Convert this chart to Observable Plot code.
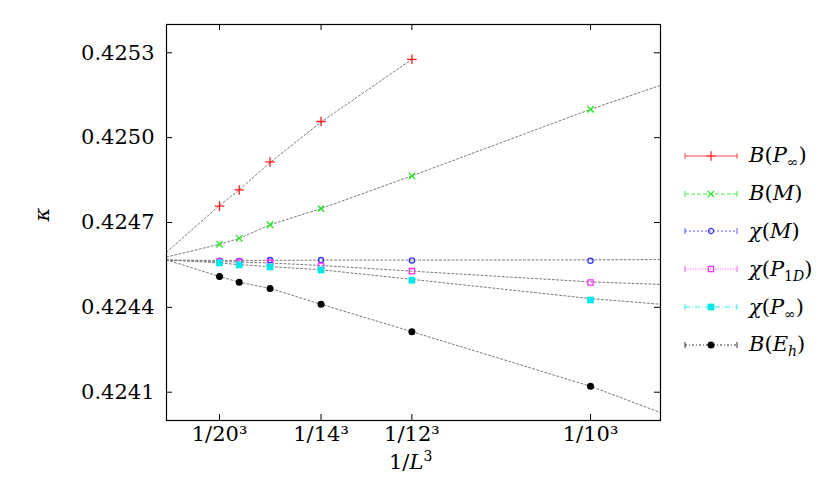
<!DOCTYPE html>
<html>
<head>
<meta charset="utf-8">
<script src="https://cdn.jsdelivr.net/npm/d3@7"></script>
<script src="https://cdn.jsdelivr.net/npm/@observablehq/plot@0.6"></script>
<style>
  body { margin: 0; background: #fff; }
  #wrap { position: relative; width: 830px; height: 483px; font-family: "DejaVu Serif", serif; }
  #wrap svg text { font-family: "DejaVu Serif", serif !important; }
  .lbl { position: absolute; font-size: 21px; color: #000; white-space: nowrap; line-height: 1; }
  #legend { position: absolute; left: 680px; top: 137px; }
  .row { display: flex; align-items: center; height: 37.8px; }
  .row span { font-size: 21px; margin-left: 7px; line-height: 1; }
  .row sub { font-size: 14px; vertical-align: -5px; line-height: 0; }
</style>
</head>
<body>
<div id="wrap"></div>
<script>
// ---- data ----
const L = [20, 18, 16, 14, 12, 10];
const xTickL = [20, 14, 12, 10];
const yTicks = [0.4241, 0.4244, 0.4247, 0.4250, 0.4253];
const xDomain = [0, 0.001165];
const yDomain = [0.4240, 0.4254];

const seriesKeys = ["BPinf", "BM", "chiM", "chiP1D", "chiPinf", "BEh"];
const seriesLabels = [
  "<i>B</i>(<i>P</i><sub>∞</sub>)",
  "<i>B</i>(<i>M</i>)",
  "<i>χ</i>(<i>M</i>)",
  "<i>χ</i>(<i>P</i><sub>1<i>D</i></sub>)",
  "<i>χ</i>(<i>P</i><sub>∞</sub>)",
  "<i>B</i>(<i>E<sub>h</sub></i>)"
];
const seriesColors = ["#ff1c1c", "#1ee81e", "#3434ff", "#ff2cff", "#00e8e8", "#000000"];
const seriesSymbols = ["plus", "times", "circle", "square", "square", "circle"];
const seriesFilled = [false, false, false, false, true, true];
const seriesSize = [3.2, 3.0, 2.6, 3, 3.8, 3.5];
const legendDash = ["none", "4,2", "2,2", "1,1.5", "5,2,1,2", "2,2,1,2"];

// kappa values for L = 20,18,16,14,12,10 (null = outside the plot)
const BPinf   = [0.424758, 0.424815, 0.424914, 0.425057, 0.425277, null];
const BM      = [0.424623, 0.424644, 0.424692, 0.424749, 0.424865, 0.425100];
const chiM    = [0.424565, 0.424564, 0.424567, 0.424567, 0.424566, 0.424565];
const chiP1D  = [0.424562, 0.424561, 0.424558, 0.424547, 0.424528, 0.424488];
const chiPinf = [0.424557, 0.424550, 0.424543, 0.424532, 0.424496, 0.424426];
const BEh     = [0.424509, 0.424489, 0.424467, 0.424411, 0.424314, 0.424121];

// fit curves, read at x = 0, 1/L^3 (L = 20..10), right edge
const fitBPinf   = [0.424595, 0.424760, 0.424815, 0.424912, 0.425055, 0.425277, null, null];
const fitBM      = [0.424578, 0.424623, 0.424644, 0.424692, 0.424749, 0.424865, 0.425100, 0.425185];
const fitChiM    = [0.424567, 0.424566, 0.424566, 0.424566, 0.424567, 0.424567, 0.424568, 0.424569];
const fitChiP1D  = [0.424567, 0.424562, 0.424560, 0.424557, 0.424548, 0.424528, 0.424490, 0.424481];
const fitChiPinf = [0.424568, 0.424557, 0.424551, 0.424544, 0.424533, 0.424499, 0.424431, 0.424411];
const fitBEh     = [0.424568, 0.424509, 0.424489, 0.424467, 0.424411, 0.424314, 0.424121, 0.424028];

// ---- build tables ----
const values = {BPinf, BM, chiM, chiP1D, chiPinf, BEh};
const fits = {BPinf: fitBPinf, BM: fitBM, chiM: fitChiM, chiP1D: fitChiP1D, chiPinf: fitChiPinf, BEh: fitBEh};
const xOf = l => 1 / (l ** 3);
const fitX = [0, ...L.map(xOf), xDomain[1]];

const points = [];
seriesKeys.forEach(k => values[k].forEach((v, i) => { if (v != null) points.push({series: k, x: xOf(L[i]), y: v}); }));
const fitRows = [];
seriesKeys.forEach(k => fits[k].forEach((v, i) => { if (v != null) fitRows.push({series: k, x: fitX[i], y: v}); }));

const xTicks = xTickL.map(xOf);
const frameW = 830 - 166 - 170, frameH = 483 - 24 - 63;

const dotMarks = seriesKeys.map((k, i) => Plot.dot(points.filter(d => d.series === k), {
  x: "x", y: "y",
  symbol: seriesSymbols[i],
  r: seriesSize[i],
  stroke: seriesFilled[i] ? "none" : seriesColors[i],
  fill: seriesFilled[i] ? seriesColors[i] : "none",
  strokeWidth: 1.3
}));

const chart = Plot.plot({
  width: 830, height: 483,
  marginLeft: 166, marginRight: 170, marginTop: 24, marginBottom: 63,
  style: {fontFamily: "'DejaVu Serif', serif", fontSize: "21px", color: "#000", background: "#fff"},
  x: {domain: xDomain},
  y: {domain: yDomain},
  marks: [
    Plot.line(fitRows, {x: "x", y: "y", z: "series", stroke: "#7a7a7a", strokeWidth: 1, strokeDasharray: "2,2.2"}),
    ...dotMarks,
    Plot.tickY(yTicks, {y: d => d, insetRight: frameW - 6, stroke: "#000"}),
    Plot.tickY(yTicks, {y: d => d, insetLeft: frameW - 6, stroke: "#000"}),
    Plot.tickX(xTicks, {x: d => d, insetBottom: frameH - 6, stroke: "#000"}),
    Plot.tickX(xTicks, {x: d => d, insetTop: frameH - 6, stroke: "#000"}),
    Plot.axisY(yTicks, {tickSize: 0, tickPadding: 12, tickFormat: d => d.toFixed(4), label: null}),
    Plot.axisX(xTicks, {tickSize: 0, tickPadding: 6, tickFormat: (d, i) => "1/" + xTickL[i] + "³", label: null}),
    Plot.frame({stroke: "#000", strokeWidth: 1.2})
  ]
});

const wrap = document.getElementById("wrap");
wrap.appendChild(chart);

// axis titles
const yl = document.createElement("div");
yl.className = "lbl";
yl.innerHTML = "<i>κ</i>";
yl.style.left = "36px"; yl.style.top = "204px";
yl.style.transform = "rotate(-90deg)";
wrap.appendChild(yl);

const xl = document.createElement("div");
xl.className = "lbl";
xl.innerHTML = "1/<i>L</i><sup style='font-size:14px;vertical-align:8px;line-height:0'>3</sup>";
xl.style.left = "389px"; xl.style.top = "452px";
wrap.appendChild(xl);

// legend
const legend = document.createElement("div");
legend.id = "legend";
seriesKeys.forEach((k, i) => {
  const row = document.createElement("div");
  row.className = "row";
  const svg = d3.create("svg").attr("width", 62).attr("height", 20);
  const c = seriesColors[i];
  svg.append("line").attr("x1", 5).attr("x2", 57).attr("y1", 10).attr("y2", 10)
    .attr("stroke", c).attr("stroke-width", 1).attr("stroke-dasharray", legendDash[i]).attr("opacity", 0.8);
  [5, 57].forEach(x => svg.append("line").attr("x1", x).attr("x2", x).attr("y1", 7).attr("y2", 13)
    .attr("stroke", c).attr("stroke-width", 1).attr("opacity", 0.8));
  const symMap = {plus: d3.symbolPlus, times: d3.symbolTimes, circle: d3.symbolCircle, square: d3.symbolSquare};
  const rr = seriesSize[i];
  svg.append("path").attr("d", d3.symbol(symMap[seriesSymbols[i]], Math.PI * rr * rr)())
    .attr("transform", "translate(31,10)")
    .attr("fill", seriesFilled[i] ? c : "none")
    .attr("stroke", seriesFilled[i] ? "none" : c)
    .attr("stroke-width", 1.2);
  row.appendChild(svg.node());
  const sp = document.createElement("span");
  sp.innerHTML = seriesLabels[i];
  row.appendChild(sp);
  legend.appendChild(row);
});
wrap.appendChild(legend);
</script>
</body>
</html>
